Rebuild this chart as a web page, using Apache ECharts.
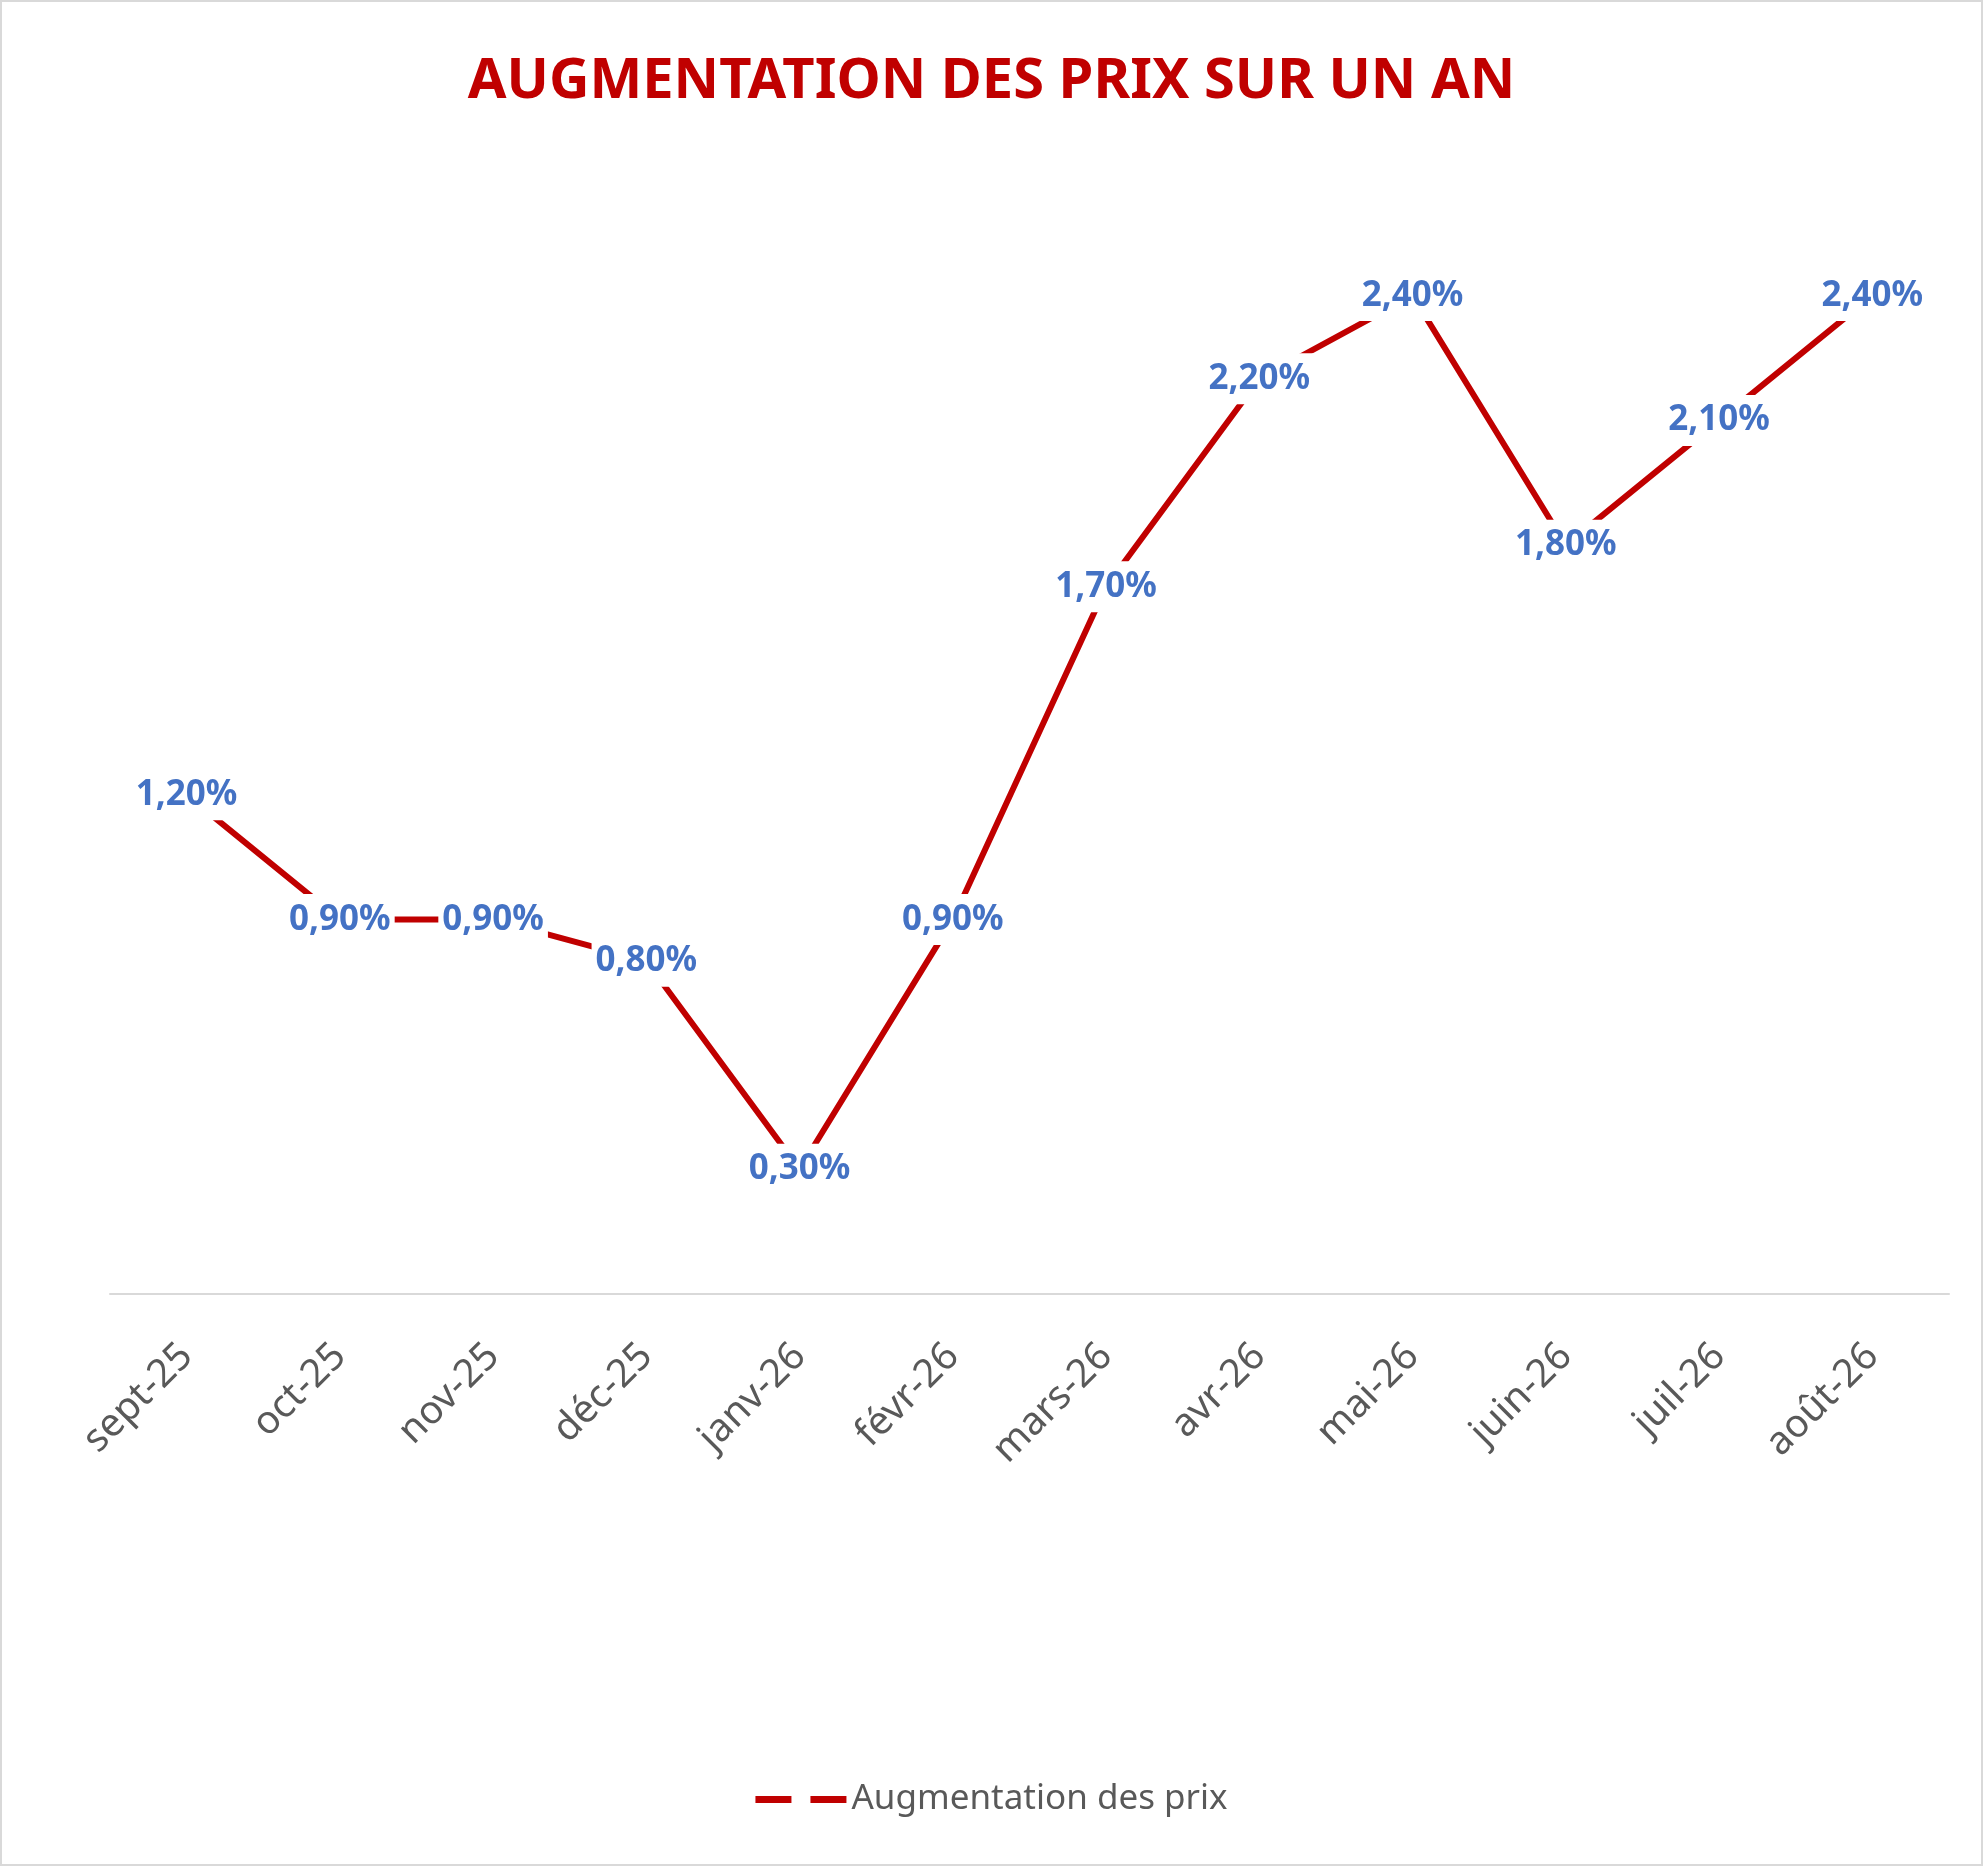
<!DOCTYPE html>
<html>
<head>
<meta charset="utf-8">
<script src="https://cdn.jsdelivr.net/npm/echarts@6/dist/echarts.min.js"></script>
<style>
  html, body { margin: 0; padding: 0; background: #fff; }
  #main { width: 1983px; height: 1866px; box-sizing: border-box; border: 2px solid #d9d9d9; }
</style>
</head>
<body>
<div id="main"></div>
<script>
var months = ['sept-25', 'oct-25', 'nov-25', 'déc-25', 'janv-26', 'févr-26',
              'mars-26', 'avr-26', 'mai-26', 'juin-26', 'juil-26', 'août-26'];
// hausse des prix sur un an, en %
var hausse = [1.2, 0.9, 0.9, 0.8, 0.3, 0.9, 1.7, 2.2, 2.4, 1.8, 2.1, 2.4];

function pct(v) {
  return v.toFixed(2).replace('.', ',') + '%';
}

var myChart = echarts.init(document.getElementById('main'));
myChart.setOption({
  animation: false,
  title: {
    text: 'AUGMENTATION DES PRIX SUR UN AN',
    left: 'center',
    top: 47,
    textStyle: {
      color: '#C00000',
      fontFamily: 'Noto Sans',
      fontWeight: 'bold',
      fontSize: 56
    }
  },
  legend: {
    bottom: 42,
    left: 'center',
    itemWidth: 91,
    itemHeight: 7,
    itemGap: 10,
    icon: 'path://M0,0h36v7h-36z M55,0h36v7h-36z',
    textStyle: {
      color: '#595959',
      fontFamily: 'Noto Sans',
      fontSize: 35
    },
    data: ['Augmentation des prix']
  },
  grid: {
    left: 108,
    right: 32,
    top: 44,
    bottom: 570
  },
  xAxis: {
    type: 'category',
    data: months,
    boundaryGap: true,
    axisLine: { lineStyle: { color: '#d9d9d9', width: 2 } },
    axisTick: { show: false },
    axisLabel: {
      rotate: 45,
      margin: 56,
      color: '#595959',
      fontFamily: 'Noto Sans',
      fontSize: 39
    }
  },
  yAxis: {
    type: 'value',
    min: 0,
    max: 3,
    interval: 0.5,
    show: false,
    splitLine: { show: false }
  },
  series: [
    {
      name: 'Augmentation des prix',
      type: 'line',
      data: hausse,
      symbol: 'circle',
      symbolSize: 0,
      showSymbol: true,
      itemStyle: { color: '#C00000' },
      lineStyle: { color: '#C00000', width: 6 },
      label: {
        show: true,
        position: 'inside',
        formatter: function (p) { return pct(p.value); },
        color: '#4472C4',
        fontFamily: 'Noto Sans',
        fontWeight: 'bold',
        fontSize: 35,
        backgroundColor: '#fff',
        padding: [9, 4, 7, 4]
      }
    }
  ]
});
</script>
</body>
</html>
